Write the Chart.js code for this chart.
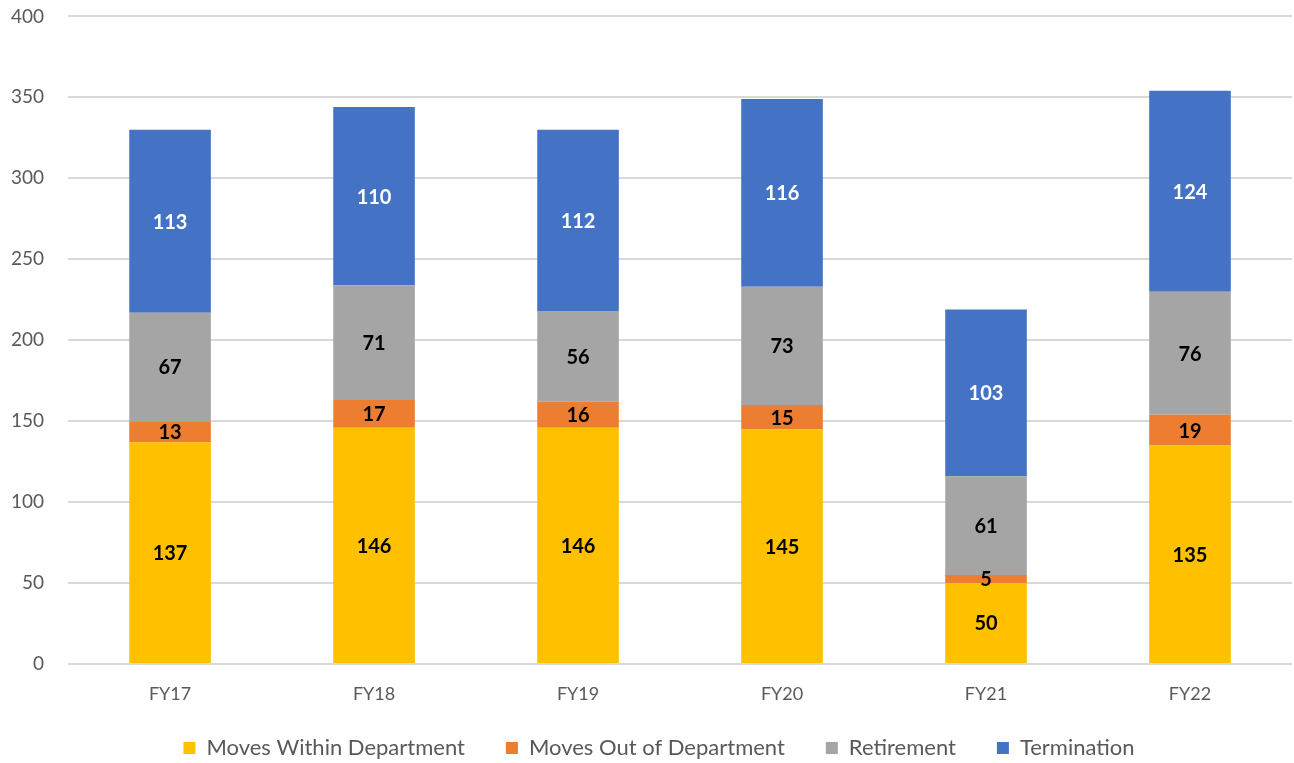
<!DOCTYPE html>
<html>
<head>
<meta charset="utf-8">
<script src="https://cdn.jsdelivr.net/npm/chart.js@4"></script>
<style>
  html, body { margin: 0; padding: 0; background: #fff; }
  #wrap { width: 1294px; height: 763px; }
</style>
</head>
<body>
<div id="wrap"><canvas id="chart"></canvas></div>
<script>
// categories and series
const years = ['FY17', 'FY18', 'FY19', 'FY20', 'FY21', 'FY22'];
const movesWithin = [137, 146, 146, 145, 50, 135];
const movesOut = [13, 17, 16, 15, 5, 19];
const retirement = [67, 71, 56, 73, 61, 76];
const termination = [113, 110, 112, 116, 103, 124];

const FONT = 'Lato, "Open Sans", sans-serif';

// draw the value in the middle of each segment
const segmentLabels = {
    id: 'segmentLabels',
    afterDatasetsDraw(chart) {
        const ctx = chart.ctx;
        ctx.save();
        ctx.font = 'bold 20px ' + FONT;
        ctx.textAlign = 'center';
        ctx.textBaseline = 'middle';
        chart.data.datasets.forEach((ds, i) => {
            const meta = chart.getDatasetMeta(i);
            ctx.fillStyle = ds.labelColor;
            meta.data.forEach((bar, j) => {
                const mid = (bar.y + bar.base) / 2;
                ctx.fillText(String(ds.data[j]), bar.x, mid + 1);
            });
        });
        ctx.restore();
    }
};

// the legend needs wide gaps between items but little room above it,
// so nudge where it is drawn instead of growing its box
const legendNudge = {
    id: 'legendNudge',
    beforeDraw(chart) {
        const lg = chart.legend;
        if (!lg || lg._nudged) return;
        const orig = lg._draw;
        lg._draw = function() {
            const t = this.top, l = this.left, r = this.right;
            this.top = t - 9;
            this.left = l + 10;
            this.right = r + 10;
            orig.call(this);
            this.top = t;
            this.left = l;
            this.right = r;
        };
        lg._nudged = true;
    }
};

function makeSet(label, data, color, labelColor) {
    return {
        label: label,
        data: data,
        backgroundColor: color,
        borderWidth: 0,
        categoryPercentage: 1.0,
        barPercentage: 0.40,
        labelColor: labelColor
    };
}

new Chart(document.getElementById('chart'), {
    type: 'bar',
    data: {
        labels: years,
        datasets: [
            makeSet('Moves Within Department', movesWithin, '#FFC000', '#000'),
            makeSet('Moves Out of Department', movesOut, '#ED7D31', '#000'),
            makeSet('Retirement', retirement, '#A5A5A5', '#000'),
            makeSet('Termination', termination, '#4472C4', '#fff')
        ]
    },
    options: {
        responsive: true,
        maintainAspectRatio: false,
        animation: false,
        layout: { padding: { left: 6, right: 2, top: 0, bottom: -15 } },
        plugins: {
            tooltip: { enabled: false },
            legend: {
                position: 'bottom',
                labels: {
                    font: { family: FONT, size: 22 },
                    color: '#595959',
                    boxWidth: 12,
                    boxHeight: 12,
                    padding: 41
                }
            }
        },
        scales: {
            x: {
                stacked: true,
                grid: { display: false },
                border: { display: false },
                ticks: { font: { family: FONT, size: 18 }, color: '#595959', padding: 11 },
                afterFit(scale) { scale.height = 41; }
            },
            y: {
                stacked: true,
                min: 0,
                max: 400,
                ticks: { stepSize: 50, font: { family: FONT, size: 19 }, color: '#595959', padding: 5 },
                grid: { color: '#D9D9D9', lineWidth: 2, drawTicks: true, tickLength: 19, tickColor: 'rgba(0,0,0,0)' },
                border: { display: false }
            }
        }
    },
    plugins: [segmentLabels, legendNudge]
});
</script>
</body>
</html>
